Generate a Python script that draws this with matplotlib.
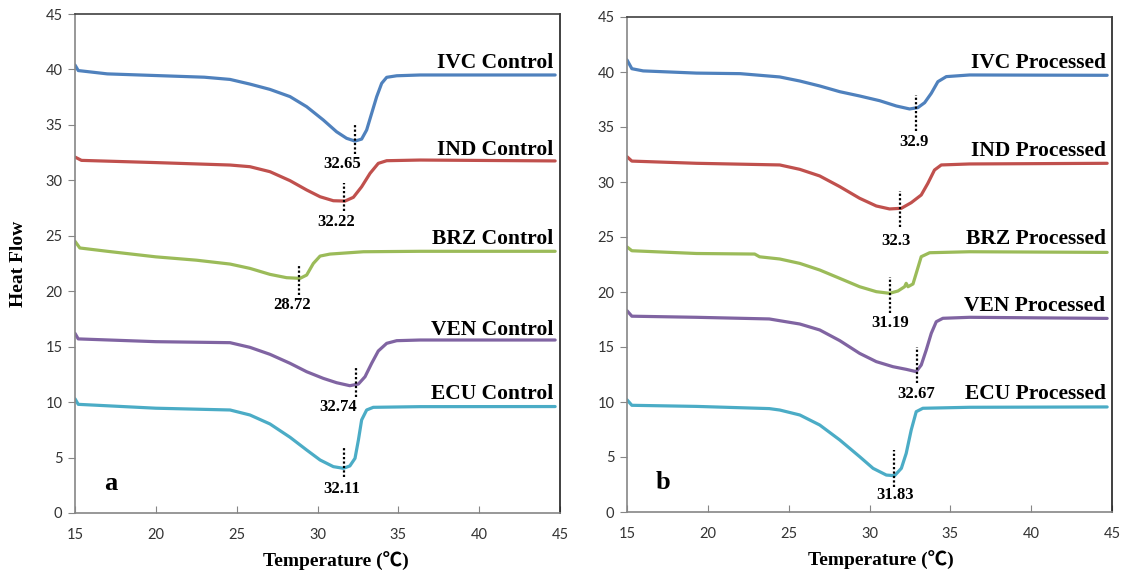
import matplotlib.pyplot as plt

# ---- panel a: control samples ----
ivc_ctrl_t = [15.0, 15.2, 17.0, 20.0, 23.0, 24.59, 25.82, 27.06, 28.3, 29.33, 30.36, 31.18, 31.8, 32.32,
              32.73, 33.04, 33.35, 33.66, 33.97, 34.28, 34.9, 36.34, 44.7]
ivc_ctrl_y = [40.4, 39.9, 39.6, 39.45, 39.3, 39.1, 38.68, 38.2, 37.55, 36.64, 35.44, 34.38, 33.79, 33.54,
              33.72, 34.54, 36.04, 37.54, 38.75, 39.29, 39.43, 39.5, 39.5]

ind_ctrl_t = [15.0, 15.4, 20.0, 24.59, 25.82, 27.06, 28.3, 29.33, 30.16, 30.98, 31.7, 32.22, 32.73,
              33.25, 33.76, 34.28, 36.34, 44.7]
ind_ctrl_y = [32.1, 31.8, 31.6, 31.38, 31.23, 30.78, 29.97, 29.13, 28.52, 28.16, 28.13, 28.47, 29.42,
              30.63, 31.53, 31.77, 31.83, 31.75]

brz_ctrl_t = [15.0, 15.3, 17.0, 20.0, 22.5, 24.59, 25.82, 27.06, 28.09, 28.92, 29.33, 29.74, 30.16,
              30.77, 32.84, 36.34, 44.7]
brz_ctrl_y = [24.5, 23.9, 23.6, 23.1, 22.8, 22.45, 22.06, 21.52, 21.22, 21.16, 21.46, 22.5, 23.17,
              23.35, 23.56, 23.6, 23.6]

ven_ctrl_t = [15.0, 15.2, 20.0, 24.59, 25.82, 27.06, 28.3, 29.33, 30.36, 31.18, 32.0, 32.53, 32.94,
              33.35, 33.76, 34.28, 34.9, 36.34, 44.7]
ven_ctrl_y = [16.2, 15.7, 15.45, 15.36, 14.94, 14.31, 13.5, 12.74, 12.14, 11.75, 11.48, 11.63, 12.29,
              13.5, 14.61, 15.3, 15.54, 15.6, 15.6]

ecu_ctrl_t = [15.0, 15.2, 20.0, 24.59, 25.82, 27.06, 28.3, 29.33, 30.16, 30.98, 31.6, 32.0, 32.32,
              32.53, 32.73, 33.04, 33.45, 36.34, 44.7]
ecu_ctrl_y = [10.3, 9.8, 9.45, 9.29, 8.84, 8.03, 6.83, 5.68, 4.78, 4.18, 4.03, 4.24, 4.93,
              6.58, 8.39, 9.29, 9.53, 9.59, 9.6]

# ---- panel b: processed samples ----
ivc_proc_t = [15.0, 15.3, 16.0, 19.3, 22.0, 24.45, 25.69, 26.92, 28.16, 29.39, 30.63, 31.66, 32.48,
              32.99, 33.41, 33.82, 34.23, 34.75, 36.19, 44.7]
ivc_proc_y = [41.1, 40.3, 40.1, 39.9, 39.85, 39.55, 39.18, 38.73, 38.21, 37.82, 37.39, 36.91, 36.64,
              36.76, 37.21, 38.06, 39.12, 39.58, 39.73, 39.7]

ind_proc_t = [15.0, 15.3, 19.3, 24.45, 25.69, 26.92, 28.16, 29.39, 30.42, 31.24, 31.97, 32.58, 33.2,
              33.61, 34.02, 34.44, 36.19, 44.7]
ind_proc_y = [32.3, 31.9, 31.7, 31.55, 31.15, 30.55, 29.58, 28.52, 27.82, 27.55, 27.61, 28.12, 28.82,
              29.88, 31.09, 31.55, 31.64, 31.7]

brz_proc_t = [15.0, 15.3, 19.3, 22.9, 23.2, 24.45, 25.69, 26.92, 28.16, 29.39, 30.42, 31.24, 31.76,
              32.17, 32.27, 32.38, 32.69, 32.89, 33.2, 33.72, 36.19, 44.7]
brz_proc_y = [24.1, 23.75, 23.5, 23.45, 23.2, 23.0, 22.6, 22.0, 21.24, 20.48, 20.03, 19.88, 20.09,
              20.48, 20.79, 20.48, 20.73, 21.7, 23.21, 23.57, 23.66, 23.6]

ven_proc_t = [15.0, 15.3, 19.3, 23.8, 24.45, 25.69, 26.92, 28.16, 29.39, 30.42, 31.45, 32.27, 32.89,
              33.2, 33.51, 33.82, 34.13, 34.54, 36.19, 44.7]
ven_proc_y = [18.3, 17.8, 17.7, 17.55, 17.39, 17.09, 16.55, 15.58, 14.42, 13.67, 13.21, 12.97, 12.76,
              13.36, 14.73, 16.24, 17.3, 17.61, 17.7, 17.6]

ecu_proc_t = [15.0, 15.3, 19.3, 23.8, 24.45, 25.69, 26.92, 28.16, 29.39, 30.22, 31.04, 31.55, 31.97,
              32.27, 32.58, 32.89, 33.3, 36.19, 44.7]
ecu_proc_y = [10.2, 9.7, 9.6, 9.4, 9.27, 8.82, 7.91, 6.55, 5.03, 3.97, 3.36, 3.3, 3.97,
              5.33, 7.45, 9.12, 9.43, 9.52, 9.55]

# peak markers: dotted line x, bottom, top, label text, label x, label y
ctrl_peak_x = [32.32, 31.67, 28.87, 32.38, 31.67]
ctrl_peak_lo = [32.4, 27.2, 19.7, 10.5, 3.27]
ctrl_peak_hi = [35.1, 29.8, 22.45, 13.2, 5.83]
ctrl_peak_txt = ["32.65", "32.22", "28.72", "32.74", "32.11"]
ctrl_peak_tx = [31.55, 31.18, 28.4, 31.28, 31.5]
ctrl_peak_ty = [31.5, 26.2, 18.8, 9.53, 2.2]

proc_peak_x = [32.89, 31.86, 31.24, 32.95, 31.51]
proc_peak_lo = [34.66, 25.94, 18.06, 11.75, 2.3]
proc_peak_hi = [37.9, 29.2, 21.39, 15.03, 5.64]
proc_peak_txt = ["32.9", "32.3", "31.19", "32.67", "31.83"]
proc_peak_tx = [32.75, 31.66, 31.3, 32.89, 31.6]
proc_peak_ty = [33.67, 24.64, 17.15, 10.7, 1.55]

names = ["IVC", "IND", "BRZ", "VEN", "ECU"]
ctrl_name_y = [40.6, 32.7, 24.7, 16.5, 10.7]
proc_name_y = [40.8, 32.85, 24.8, 18.7, 10.7]

colors = ["#4F81BD", "#C0504D", "#9BBB59", "#8064A2", "#4BACC6"]
serif = ["Liberation Serif", "DejaVu Serif"]


def draw_panel(ax, curves, peaks, name_y, suffix, letter):
    for (t, y), c in zip(curves, colors):
        ax.plot(t, y, color=c, lw=2.3, solid_capstyle="round", solid_joinstyle="round")
    px, lo, hi, txt, tx, ty = peaks
    for i in range(len(px)):
        ax.plot([px[i], px[i]], [lo[i], hi[i]], color="black", lw=1.6, ls=(0, (1, 1)))
        ax.text(tx[i], ty[i], txt[i], ha="center", va="center",
                fontsize=12, fontweight="bold", family=serif)
    for n, yy in zip(names, name_y):
        ax.text(44.6, yy, f"{n} {suffix}", ha="right", va="center",
                fontsize=15.5, fontweight="bold", family=serif)
    ax.text(17.2, 2.7, letter, ha="center", va="center",
            fontsize=19, fontweight="bold", family=serif)

    ax.set_xlim(15, 45)
    ax.set_ylim(0, 45)
    ax.set_xticks(range(15, 46, 5))
    ax.set_yticks(range(0, 46, 5))
    ax.tick_params(axis="x", direction="in", length=5, color="#868686",
                   labelsize=10.5, labelcolor="#333333", pad=11)
    ax.tick_params(axis="y", direction="out", length=5, color="#868686",
                   labelsize=10.5, labelcolor="#333333", pad=4)
    for lab in ax.get_xticklabels() + ax.get_yticklabels():
        lab.set_family("Lato")
    ax.spines["left"].set_color("#868686")
    ax.spines["bottom"].set_color("#868686")
    ax.spines["top"].set_color("#404040")
    ax.spines["right"].set_color("#202020")
    for s in ax.spines.values():
        s.set_linewidth(1.2)
    ax.set_xlabel("Temperature (\u2103)", fontsize=14, fontweight="bold",
                  family=["Liberation Serif", "Noto Sans CJK JP", "DejaVu Sans"])


fig = plt.figure(figsize=(11.27, 5.77), dpi=100)
ax1 = fig.add_axes([75 / 1127, 64 / 577, 485 / 1127, 499 / 577])
ax2 = fig.add_axes([627 / 1127, 65 / 577, 485 / 1127, 495 / 577])

ctrl_curves = [(ivc_ctrl_t, ivc_ctrl_y), (ind_ctrl_t, ind_ctrl_y), (brz_ctrl_t, brz_ctrl_y),
               (ven_ctrl_t, ven_ctrl_y), (ecu_ctrl_t, ecu_ctrl_y)]
proc_curves = [(ivc_proc_t, ivc_proc_y), (ind_proc_t, ind_proc_y), (brz_proc_t, brz_proc_y),
               (ven_proc_t, ven_proc_y), (ecu_proc_t, ecu_proc_y)]

draw_panel(ax1, ctrl_curves,
           (ctrl_peak_x, ctrl_peak_lo, ctrl_peak_hi, ctrl_peak_txt, ctrl_peak_tx, ctrl_peak_ty),
           ctrl_name_y, "Control", "a")
draw_panel(ax2, proc_curves,
           (proc_peak_x, proc_peak_lo, proc_peak_hi, proc_peak_txt, proc_peak_tx, proc_peak_ty),
           proc_name_y, "Processed", "b")

ax1.xaxis.set_label_coords(0.538, -0.078)
ax2.xaxis.set_label_coords(0.524, -0.078)
ax1.set_ylabel("Heat Flow", fontsize=14, fontweight="bold", family=serif)
ax1.yaxis.set_label_coords(-0.098, 0.5)

fig.savefig("out.png", dpi=100)
